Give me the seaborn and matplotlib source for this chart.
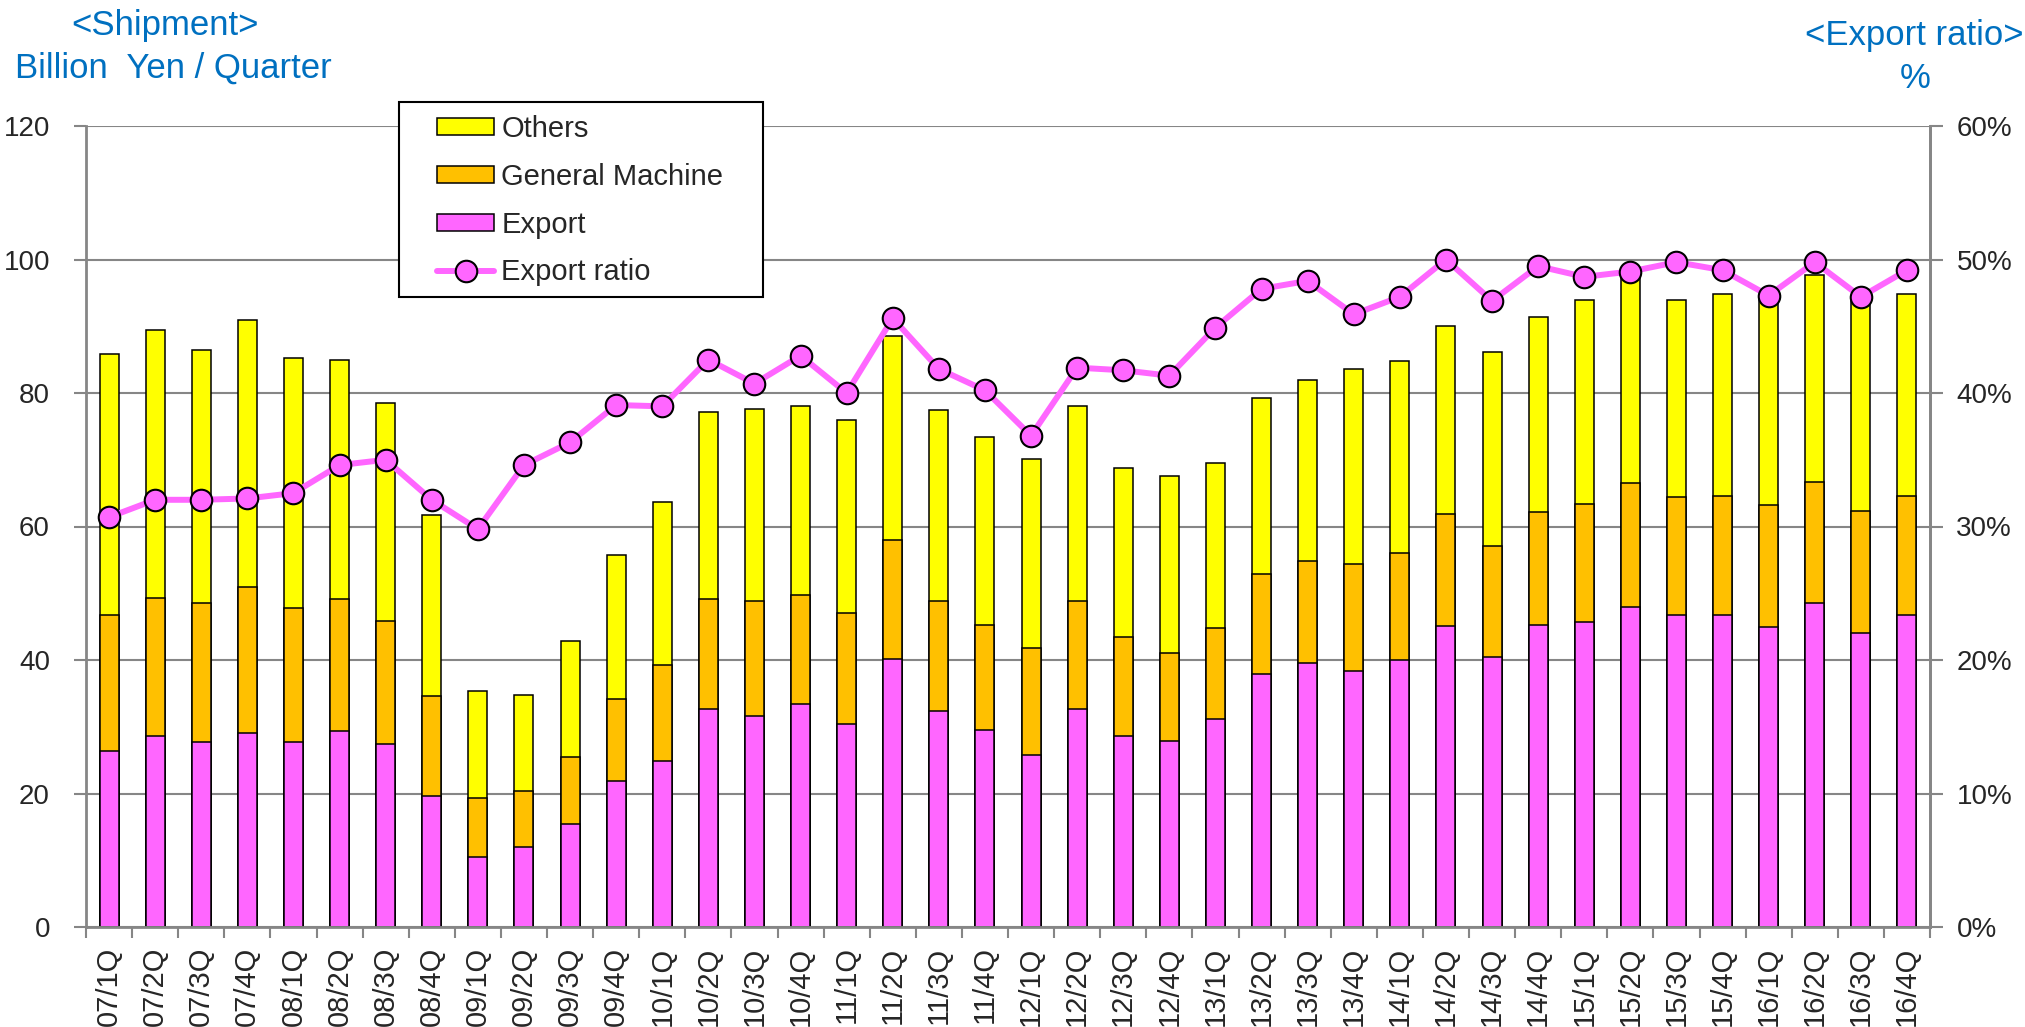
import numpy as np
import pandas as pd
import matplotlib
matplotlib.use("Agg")
import matplotlib.pyplot as plt
import seaborn as sns
from matplotlib.patches import Patch, Rectangle
from matplotlib.lines import Line2D
from matplotlib.ticker import FuncFormatter, FixedLocator

# quarterly shipment data (billion yen)
quarters = ["07/1Q", "07/2Q", "07/3Q", "07/4Q", "08/1Q", "08/2Q", "08/3Q", "08/4Q",
            "09/1Q", "09/2Q", "09/3Q", "09/4Q", "10/1Q", "10/2Q", "10/3Q", "10/4Q",
            "11/1Q", "11/2Q", "11/3Q", "11/4Q", "12/1Q", "12/2Q", "12/3Q", "12/4Q",
            "13/1Q", "13/2Q", "13/3Q", "13/4Q", "14/1Q", "14/2Q", "14/3Q", "14/4Q",
            "15/1Q", "15/2Q", "15/3Q", "15/4Q", "16/1Q", "16/2Q", "16/3Q", "16/4Q"]

export = [26.3, 28.6, 27.7, 29.1, 27.7, 29.4, 27.4, 19.7, 10.5, 12.0, 15.4, 21.8,
          24.8, 32.7, 31.6, 33.4, 30.4, 40.2, 32.4, 29.5, 25.8, 32.6, 28.6, 27.9,
          31.2, 37.9, 39.6, 38.3, 40.0, 45.1, 40.4, 45.2, 45.7, 47.9, 46.7, 46.7,
          45.0, 48.6, 44.1, 46.7]

# cumulative top of "General Machine" segment
general_top = [46.8, 49.3, 48.5, 50.9, 47.8, 49.1, 45.9, 34.6, 19.3, 20.3, 25.5, 34.2,
               39.2, 49.1, 48.8, 49.8, 47.1, 58.0, 48.9, 45.3, 41.8, 48.9, 43.5, 41.0,
               44.8, 52.9, 54.8, 54.4, 56.1, 61.8, 57.1, 62.1, 63.3, 66.5, 64.4, 64.5,
               63.2, 66.6, 62.3, 64.5]

# total shipment (top of "Others")
total = [85.9, 89.5, 86.5, 90.9, 85.3, 85.0, 78.5, 61.7, 35.3, 34.7, 42.8, 55.8,
         63.7, 77.2, 77.6, 78.0, 76.0, 88.5, 77.5, 73.4, 70.1, 78.0, 68.8, 67.6,
         69.5, 79.3, 81.9, 83.6, 84.8, 90.1, 86.2, 91.4, 94.0, 97.6, 94.0, 94.9,
         94.1, 97.7, 93.8, 94.9]

export_ratio = [30.7, 32.0, 32.0, 32.1, 32.5, 34.6, 35.0, 32.0, 29.8, 34.6, 36.3, 39.1,
                39.0, 42.5, 40.7, 42.8, 40.0, 45.6, 41.8, 40.2, 36.8, 41.9, 41.7, 41.3,
                44.9, 47.8, 48.4, 45.9, 47.2, 50.0, 46.9, 49.5, 48.7, 49.1, 49.8, 49.2,
                47.3, 49.8, 47.2, 49.2]

df = pd.DataFrame({"quarter": quarters, "export": export, "general": general_top,
                   "total": total, "ratio": np.array(export_ratio) / 100})

c_export = "#FF66FF"
c_general = "#FFC000"
c_others = "#FFFF00"
grey = "#868686"
blue = "#0070C0"

sns.set_style("white")
plt.rcParams["font.family"] = ["Liberation Sans", "DejaVu Sans"]

W, H = 2025, 1027
fig = plt.figure(figsize=(W / 100, H / 100), dpi=100)
ax = fig.add_axes([86 / W, 1 - 927 / H, (1930 - 86) / W, (927 - 126) / H])

bar_kw = dict(width=0.41, edgecolor="black", linewidth=1.1, saturation=1, ax=ax)
sns.barplot(data=df, x="quarter", y="total", color=c_others, **bar_kw)
sns.barplot(data=df, x="quarter", y="general", color=c_general, **bar_kw)
sns.barplot(data=df, x="quarter", y="export", color=c_export, **bar_kw)

ax.set_xlim(-0.5, len(quarters) - 0.5)
ax.set_ylim(0, 120)
ax.set_yticks(range(0, 121, 20))
ax.set_axisbelow(True)
ax.yaxis.grid(True, color=grey, linewidth=1.5)
ax.set_xlabel("")
ax.set_ylabel("")
ax.spines["top"].set_visible(False)
for s in ["left", "bottom", "right"]:
    ax.spines[s].set_color(grey)
    ax.spines[s].set_linewidth(2)
ax.tick_params(axis="y", direction="out", length=9, width=1.5, color=grey,
               labelsize=20, pad=17, left=True)
ax.tick_params(axis="x", which="major", length=0, labelsize=21, pad=14,
               labelrotation=90)
ax.xaxis.set_minor_locator(FixedLocator(np.arange(-0.5, len(quarters), 1.0)))
ax.tick_params(axis="x", which="minor", direction="out", length=8, width=1.5,
               color=grey, bottom=True)

line_kw = dict(color=c_export, linewidth=4.3, marker="o", markersize=15.5,
               markerfacecolor=c_export, markeredgecolor="black", markeredgewidth=1.5)

ax2 = ax.twinx()
sns.lineplot(x=np.arange(len(quarters)), y=df["ratio"].values, ax=ax2, **line_kw)
ax2.set_ylim(0, 0.6)
ax2.set_yticks(np.arange(0, 0.61, 0.1))
ax2.yaxis.set_major_formatter(FuncFormatter(lambda v, p: f"{v * 100:.0f}%"))
ax2.tick_params(axis="y", direction="out", length=9, width=1.5, color=grey,
                labelsize=20, pad=10, right=True)
for s in ["top", "left", "bottom"]:
    ax2.spines[s].set_visible(False)
ax2.spines["right"].set_color(grey)
ax2.spines["right"].set_linewidth(2)
ax2.set_ylabel("")

# legend box drawn by hand so the padding matches the original
fig.patches.append(Rectangle((399 / W, 1 - 297 / H), (763 - 399) / W, (297 - 102) / H,
                             transform=fig.transFigure, facecolor="white",
                             edgecolor="black", linewidth=1.5, zorder=5))
handles = [Patch(facecolor=c_others, edgecolor="black", linewidth=1.1),
           Patch(facecolor=c_general, edgecolor="black", linewidth=1.1),
           Patch(facecolor=c_export, edgecolor="black", linewidth=1.1),
           Line2D([], [], **line_kw)]
labels = ["Others", "General Machine", "Export", "Export ratio"]
leg = fig.legend(handles, labels, loc="upper left",
                 bbox_to_anchor=(437 / W, 1 - 115 / H),
                 frameon=False, fontsize=21, labelspacing=0.68,
                 handlelength=1.97, handleheight=0.55, handletextpad=0.24,
                 borderpad=0, borderaxespad=0)
leg.set_zorder(6)

fig.text(165 / W, 1 - 26 / H, "<Shipment>", color=blue, fontsize=25,
         ha="center", va="center")
fig.text(15 / W, 1 - 68 / H, "Billion  Yen / Quarter", color=blue, fontsize=25,
         ha="left", va="center")
fig.text(2024 / W, 1 - 35 / H, "<Export ratio>", color=blue, fontsize=25,
         ha="right", va="center")
fig.text(1915 / W, 1 - 78 / H, "%", color=blue, fontsize=25,
         ha="center", va="center")

fig.savefig("out.png", dpi=100)
